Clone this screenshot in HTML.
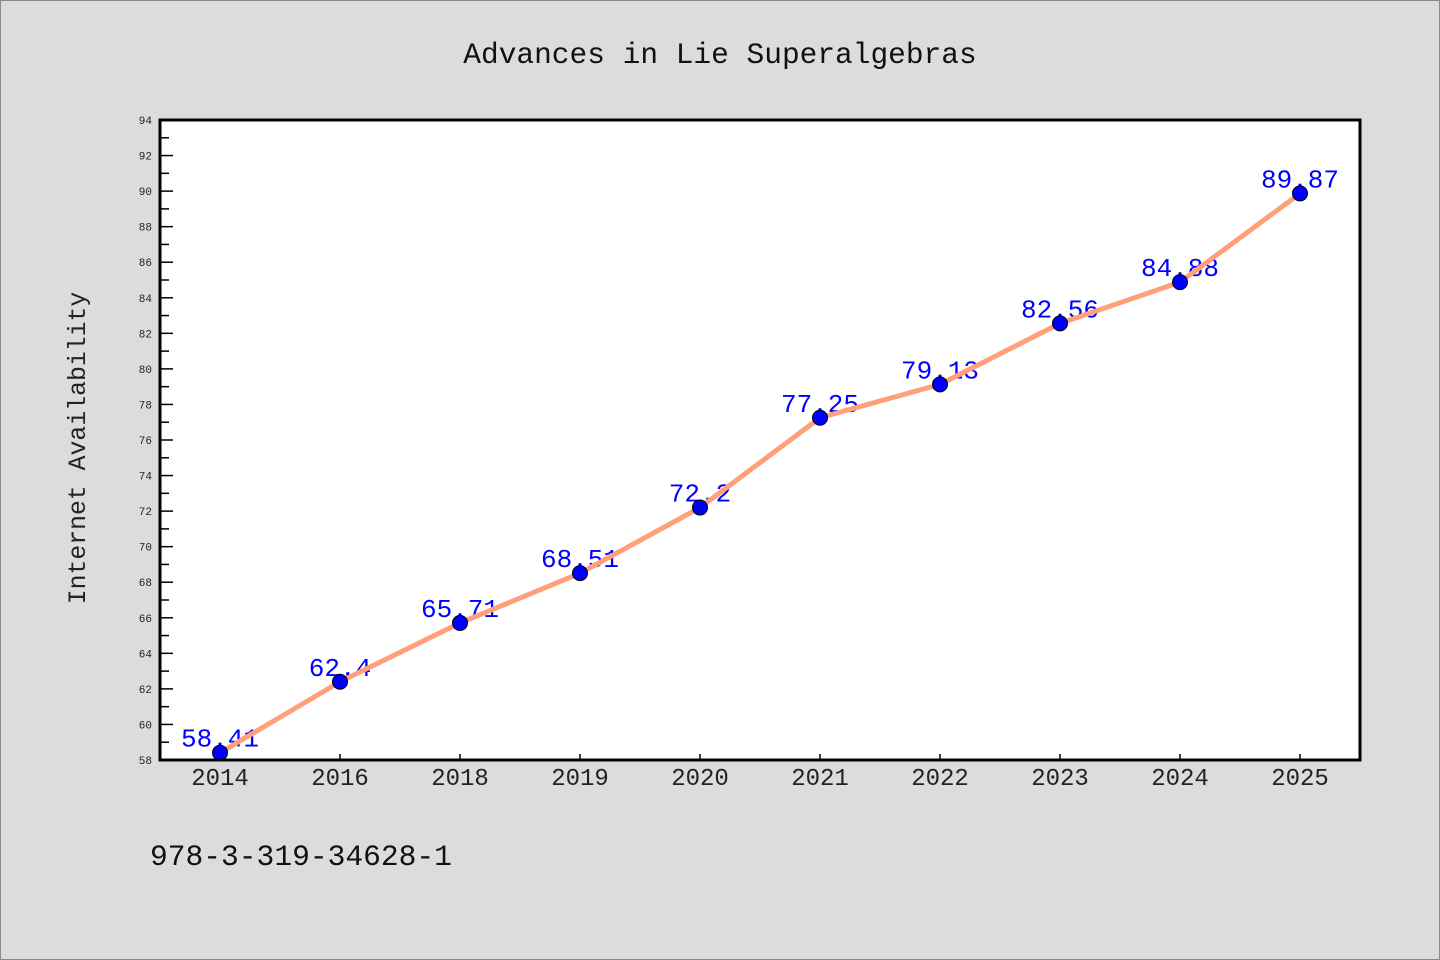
<!DOCTYPE html>
<html><head><meta charset="utf-8"><style>
body{margin:0;background:#dcdcdc;}
svg{display:block;font-family:"WenQuanYi Zen Hei Mono","Liberation Mono",monospace;}
</style></head><body>
<svg id="chart" width="1440" height="960">
<rect x="0.5" y="0.5" width="1439" height="959" fill="#dcdcdc" stroke="#888"/>
<text x="720" y="63" text-anchor="middle" font-size="29.5" fill="#111">Advances in Lie Superalgebras</text>
<text transform="translate(85,448) rotate(-90)" text-anchor="middle" font-size="24.8" fill="#222">Internet Availability</text>
<text x="150" y="865" font-size="29.6" fill="#111">978-3-319-34628-1</text>
<rect x="160" y="120" width="1200" height="640" fill="#fff"/>
<g id="yaxis"></g><g id="xaxis"></g><g id="labels"></g><g id="series"></g>
<rect x="160" y="120" width="1200" height="640" fill="none" stroke="#000" stroke-width="3"/>
</svg>
<script>
const categories=["2014","2016","2018","2019","2020","2021","2022","2023","2024","2025"];
const values=[58.41,62.4,65.71,68.51,72.2,77.25,79.13,82.56,84.88,89.87];
const valueLabels=["58.41","62.4","65.71","68.51","72.2","77.25","79.13","82.56","84.88","89.87"];
const yMin=58,yMax=94;
const NS="http://www.w3.org/2000/svg";
const L=160,R=1360,T=120,B=760;
function xs(i){return L+(R-L)/categories.length*(i+0.5);}
function ys(v){return B-(v-yMin)/(yMax-yMin)*(B-T);}
function mk(tag,attrs,parent){const e=document.createElementNS(NS,tag);for(const k in attrs)e.setAttribute(k,attrs[k]);parent.appendChild(e);return e;}
const ya=document.getElementById('yaxis'),xa=document.getElementById('xaxis'),lb=document.getElementById('labels'),se=document.getElementById('series');
for(let v=yMin;v<=yMax;v++){
  const y=ys(v),major=v%2===0;
  const t=mk('line',{x1:L,x2:L+(major?13:9),y1:y,y2:y,stroke:'#000','stroke-width':1.5},ya);
  
  
  if(major){const tx=mk('text',{x:L-8,y:y+4,'text-anchor':'end','font-size':11,fill:'#222'},ya);tx.textContent=v;
    
    }
}
categories.forEach((c,i)=>{
  const x=xs(i);
  const t=mk('line',{x1:x,x2:x,y1:B,y2:B-6,stroke:'#000','stroke-width':1.5},xa);
  
  
  const tx=mk('text',{x:x,y:B+25,'text-anchor':'middle','font-size':24,fill:'#222'},xa);tx.textContent=c;
  
  
});
values.forEach((v,i)=>{
  const tx=mk('text',{x:xs(i),y:ys(v)-6,'text-anchor':'middle','font-size':26,fill:'#0000ff'},lb);tx.textContent=valueLabels[i];
  
  
});
const line=mk('polyline',{points:values.map((v,i)=>xs(i)+','+ys(v)).join(' '),fill:'none',stroke:'#ffa07a','stroke-width':5,'stroke-linejoin':'round'},se);


values.forEach((v,i)=>{
  const c=mk('circle',{cx:xs(i),cy:ys(v),r:7.5,fill:'#0000ff',stroke:'#000','stroke-width':1},se);
  
  
});
</script>
</body></html>
